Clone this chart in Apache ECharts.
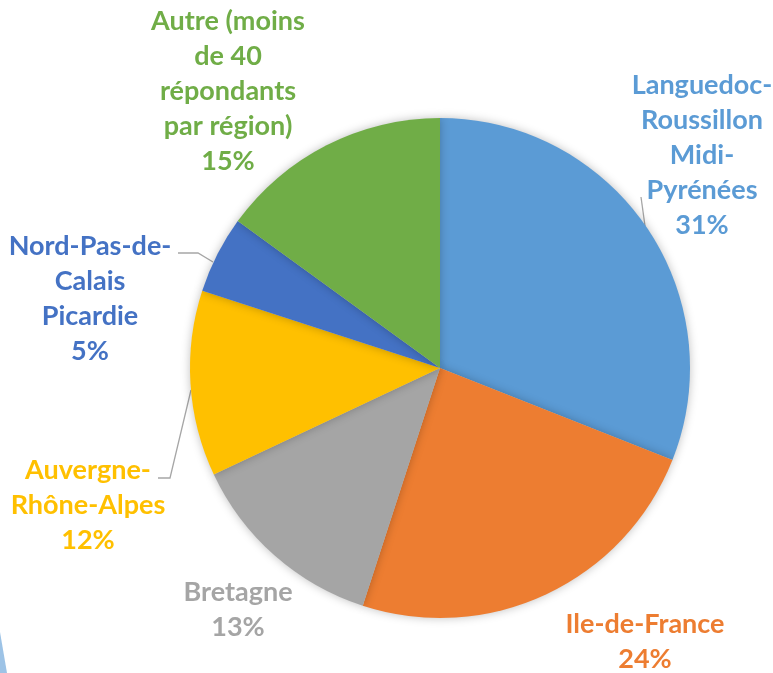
<!DOCTYPE html>
<html>
<head>
<meta charset="utf-8">
<script src="https://cdn.jsdelivr.net/npm/echarts@6/dist/echarts.min.js"></script>
<style>
html,body{margin:0;padding:0;background:#fff;}
#c{width:773px;height:673px;}
</style>
</head>
<body>
<div id="c"></div>
<script>
const categories = [
  "Languedoc-\nRoussillon\nMidi-\nPyrénées",
  "Ile-de-France",
  "Bretagne",
  "Auvergne-\nRhône-Alpes",
  "Nord-Pas-de-\nCalais\nPicardie",
  "Autre (moins\nde 40\nrépondants\npar région)"
];
const values = [31, 24, 13, 12, 5, 15];
const colors = ["#5B9BD5", "#ED7D31", "#A5A5A5", "#FFC000", "#4472C4", "#70AD47"];
const showLine = [true, false, false, true, true, false];

// label anchor positions (centre of label block) and leader lines
const labelPos = [
  {x: 702, y: 155},
  {x: 645, y: 642},
  {x: 238, y: 610},
  {x: 88, y: 505},
  {x: 90, y: 299},
  {x: 228, y: 91}
];
const linePts = [
  [[645, 226], [641, 197]],
  null,
  null,
  [[191, 390], [170, 478], [158, 478]],
  [[213, 262], [198, 253], [178, 253]],
  null
];

const chart = echarts.init(document.getElementById('c'), null, {renderer: 'canvas'});
chart.setOption({
  animation: false,
  backgroundColor: '#ffffff',
  graphic: [{
    type: 'polygon',
    shape: {points: [[0, 632], [7, 673], [0, 673]]},
    style: {fill: '#9DC3E6'}
  }],
  series: [{
    type: 'pie',
    center: [440, 368],
    radius: 250,
    startAngle: 90,
    clockwise: true,
    avoidLabelOverlap: false,
    itemStyle: {
      borderColor: '#ffffff',
      borderWidth: 0,
      shadowBlur: 10,
      shadowColor: 'rgba(0,0,0,0.25)'
    },
    label: {
      show: true,
      position: 'outside',
      formatter: p => p.name + '\n' + p.value + '%',
      fontFamily: 'Lato',
      fontWeight: 'bold',
      fontSize: 27,
      lineHeight: 35,
      align: 'center'
    },
    labelLine: {
      show: true,
      lineStyle: {color: '#A6A6A6', width: 1.3},
      length: 10,
      length2: 10
    },
    labelLayout: function (params) {
      const i = params.dataIndex;
      const r = {x: labelPos[i].x, y: labelPos[i].y, align: 'center', verticalAlign: 'middle'};
      if (linePts[i]) r.labelLinePoints = linePts[i];
      return r;
    },
    data: categories.map((n, i) => ({
      name: n,
      value: values[i],
      itemStyle: {color: colors[i]},
      label: {color: colors[i]},
      labelLine: {show: showLine[i]}
    }))
  }]
});
</script>
</body>
</html>
